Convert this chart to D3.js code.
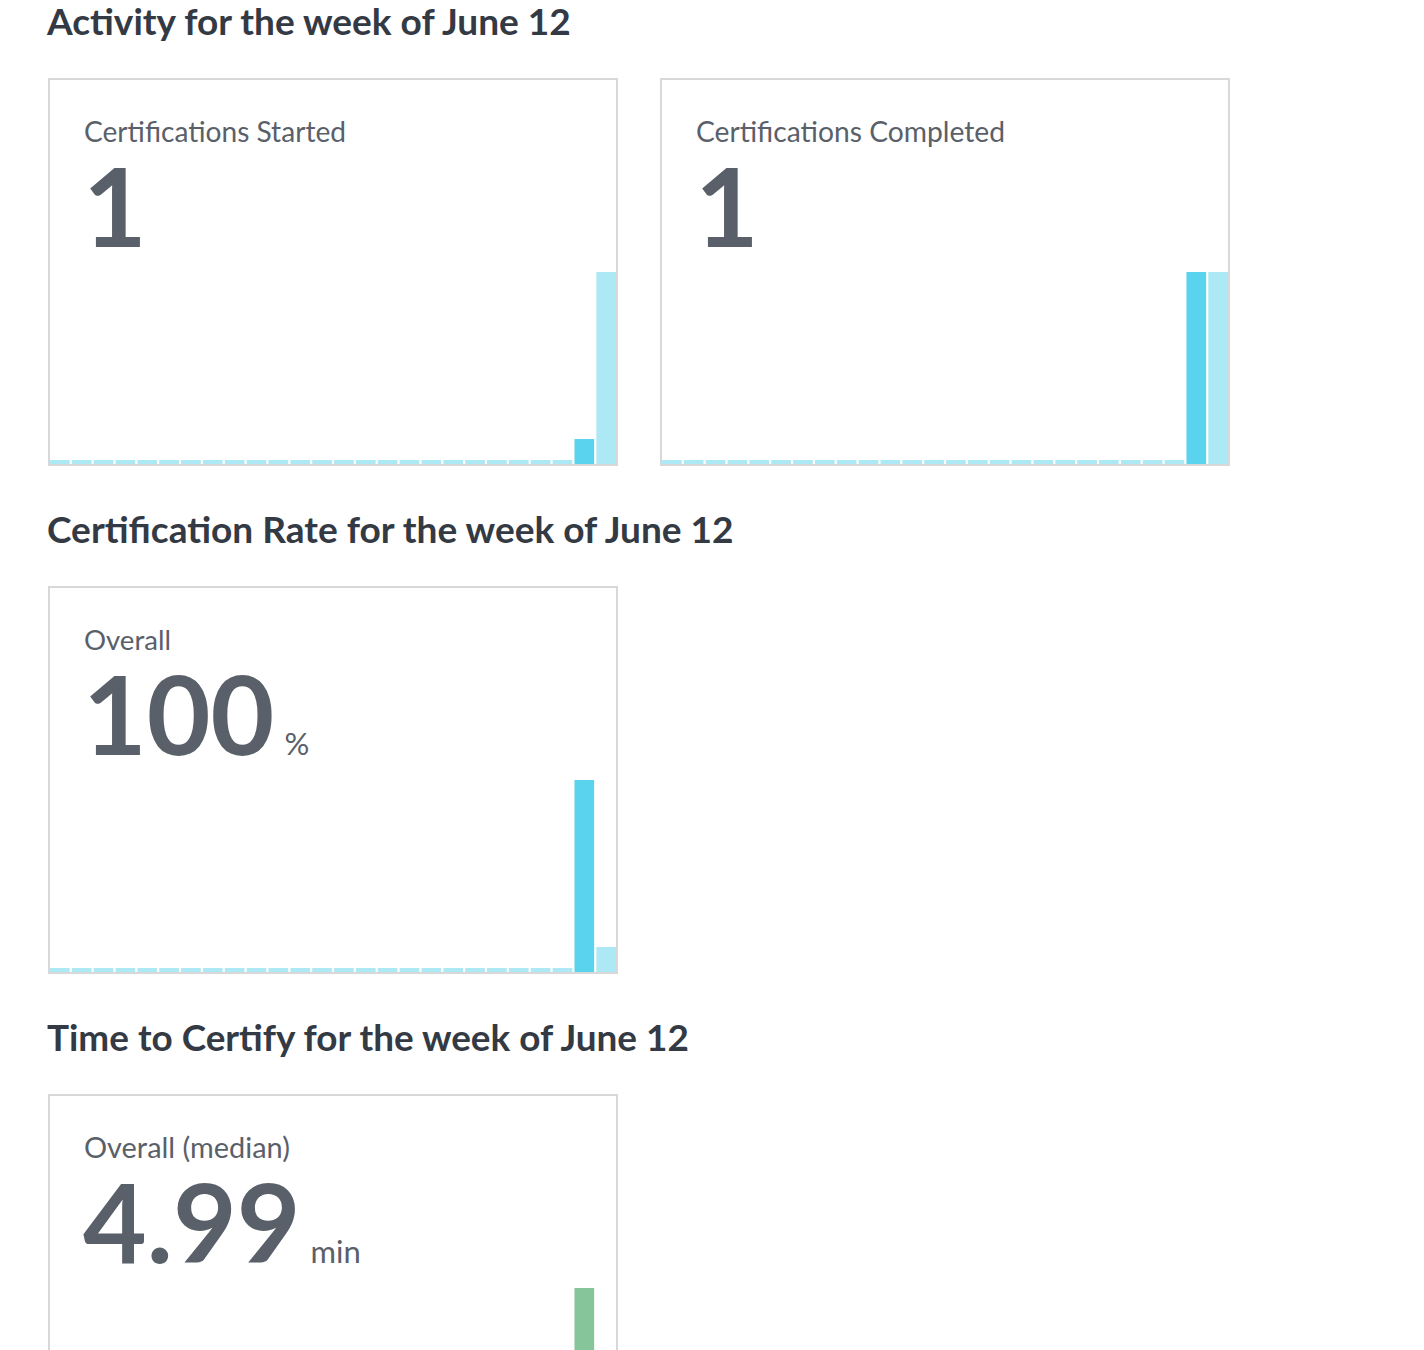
<!DOCTYPE html>
<html>
<head>
<meta charset="utf-8">
<script src="https://cdn.jsdelivr.net/npm/d3@7"></script>
<style>
  html, body { margin: 0; padding: 0; background: #ffffff; }
  svg { display: block; }
</style>
</head>
<body>
<svg id="chart" width="1424" height="1350"></svg>
<script>
// ---------- data ----------
const weekIndex = ["W1","W2","W3","W4","W5","W6","W7","W8","W9","W10","W11","W12","W13",
                   "W14","W15","W16","W17","W18","W19","W20","W21","W22","W23","W24","W25","W26"];

const sectionTitles = [
  "Activity for the week of June 12",
  "Certification Rate for the week of June 12",
  "Time to Certify for the week of June 12"
];

const panelLabels = ["Certifications Started", "Certifications Completed", "Overall", "Overall (median)"];
const panelValues = ["1", "1", "100", "4.99"];
const panelUnits  = ["", "", "%", "min"];

// relative bar heights (0..1) per week
const startedSeries   = [0,0,0,0,0,0,0,0,0,0,0,0,0,0,0,0,0,0,0,0,0,0,0,0,0.13,1];
const completedSeries = [0,0,0,0,0,0,0,0,0,0,0,0,0,0,0,0,0,0,0,0,0,0,0,0,1,1];
const rateSeries      = [0,0,0,0,0,0,0,0,0,0,0,0,0,0,0,0,0,0,0,0,0,0,0,0,1,0.13];
const timeSeries      = [0,0,0,0,0,0,0,0,0,0,0,0,0,0,0,0,0,0,0,0,0,0,0,0,1,0];
// which week is the highlighted (current) week in each panel
const highlightWeek = "W25";

// ---------- drawing ----------
const svg = d3.select("#chart");
const FONT = "Lato, 'Source Sans Pro', sans-serif";
const C = {
  heading: "#343a44",
  text: "#5a6069",
  border: "#d8d8d8",
  dark: "#59d3ee",
  light: "#ade8f5",
  green: "#86c499"
};

function fitWidth(sel, target) {
  const w = sel.node().getComputedTextLength();
  const fs = parseFloat(sel.attr("font-size"));
  sel.attr("font-size", fs * target / w);
}

// section headings
const headingY = [35, 543, 1051];
const headingW = [524, 687, 642];
sectionTitles.forEach((t, i) => {
  const s = svg.append("text")
    .attr("x", 47).attr("y", headingY[i])
    .attr("font-family", FONT).attr("font-weight", 700)
    .attr("font-size", 33).attr("fill", C.heading)
    .text(t);
  fitWidth(s, headingW[i]);
});

const panels = [
  { x: 48,  y: 78,   series: startedSeries,   hi: C.dark,  lo: C.light, labelW: 262 },
  { x: 660, y: 78,   series: completedSeries, hi: C.dark,  lo: C.light, labelW: 309 },
  { x: 48,  y: 586,  series: rateSeries,      hi: C.dark,  lo: C.light, labelW: 87 },
  { x: 48,  y: 1094, series: timeSeries,      hi: C.green, lo: C.light, labelW: 206 }
];

const W = 570, H = 388;

panels.forEach((p, i) => {
  const g = svg.append("g").attr("transform", `translate(${p.x},${p.y})`);

  // bars
  const x = d3.scaleBand().domain(weekIndex).range([2, W - 2]).paddingInner(0.1).paddingOuter(0);
  const y = d3.scaleLinear().domain([0, 1]).range([H - 2, H - 2 - 192]);
  const minH = 4;
  g.selectAll("rect.bar")
    .data(p.series.map((v, k) => ({ v, w: weekIndex[k] })))
    .join("rect")
    .attr("class", "bar")
    .attr("x", d => x(d.w))
    .attr("width", x.bandwidth())
    .attr("y", d => Math.min(y(d.v), y(0) - minH))
    .attr("height", d => Math.max(y(0) - y(d.v), minH))
    .attr("fill", d => d.w === highlightWeek && d.v > 0 ? p.hi : p.lo);

  // border
  g.append("rect")
    .attr("x", 1).attr("y", 1)
    .attr("width", W - 2).attr("height", H - 2)
    .attr("fill", "none").attr("stroke", C.border).attr("stroke-width", 2);

  // label
  const lab = g.append("text")
    .attr("x", 36).attr("y", 64)
    .attr("font-family", FONT).attr("font-size", 26).attr("fill", C.text)
    .text(panelLabels[i]);
  fitWidth(lab, p.labelW);

  // value
  const val = g.append("text")
    .attr("x", 35).attr("y", 169)
    .attr("font-family", FONT).attr("font-weight", 700)
    .attr("font-size", 110).attr("fill", C.text)
    .text(panelValues[i]);

  if (panelUnits[i]) {
    const bb = val.node().getBBox();
    g.append("text")
      .attr("x", bb.x + bb.width + 10).attr("y", 169)
      .attr("font-family", FONT).attr("font-size", 31).attr("fill", C.text)
      .text(panelUnits[i]);
  }
});
</script>
</body>
</html>
